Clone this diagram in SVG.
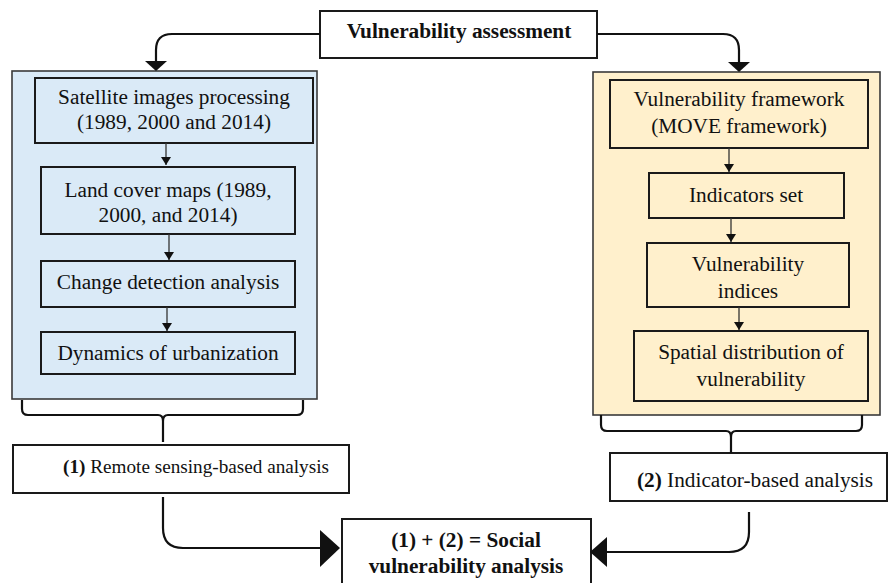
<svg xmlns="http://www.w3.org/2000/svg" width="888" height="583" viewBox="0 0 888 583">
<defs>
<style>
text{font-family:'Liberation Serif','Times New Roman',serif;font-size:21.3px;fill:#111;text-anchor:middle}
text.s{font-size:19.2px}
.b{font-weight:bold}
.box{stroke:#1a1a1a;stroke-width:2}
.blue{fill:#DAEAF7}
.yel{fill:#FFF0CC}
.wht{fill:#fff}
.cont{stroke:#3a3a3a;stroke-width:1.6}
.thin{stroke:#333;stroke-width:1.3;fill:none}
.thick{stroke:#111;stroke-width:2.2;fill:none}
</style>
<marker id="sa" markerWidth="10" markerHeight="10" refX="8" refY="5" orient="auto" markerUnits="userSpaceOnUse">
<path d="M0,0 L8,5 L0,10 Z" fill="#111"/>
</marker>
</defs>

<g id="containers">
<rect x="12" y="71" width="305" height="328" class="blue cont"/>
<rect x="593" y="72" width="287" height="343" class="yel cont"/>
</g>

<g id="n-top"><rect x="320" y="11" width="277" height="47" class="wht box"/><text x="459" y="38" class="b">Vulnerability assessment</text></g>

<g id="n-l1"><rect x="35" y="78" width="278" height="65" class="blue box"/><text x="174" y="104">Satellite images processing</text><text x="174" y="129">(1989, 2000 and 2014)</text></g>
<g id="n-l2"><rect x="41" y="167" width="254" height="67" class="blue box"/><text x="168" y="197">Land cover maps (1989,</text><text x="168" y="222">2000, and 2014)</text></g>
<g id="n-l3"><rect x="41" y="261" width="254" height="46" class="blue box"/><text x="168" y="289">Change detection analysis</text></g>
<g id="n-l4"><rect x="41" y="332" width="254" height="42" class="blue box"/><text x="168" y="360">Dynamics of urbanization</text></g>

<g id="n-r1"><rect x="610" y="80" width="258" height="68" class="yel box"/><text x="739" y="106">Vulnerability framework</text><text x="739" y="133">(MOVE framework)</text></g>
<g id="n-r2"><rect x="649" y="173" width="195" height="45" class="yel box"/><text x="746" y="202">Indicators set</text></g>
<g id="n-r3"><rect x="647" y="243" width="202" height="64" class="yel box"/><text x="748" y="271">Vulnerability</text><text x="748" y="298">indices</text></g>
<g id="n-r4"><rect x="634" y="331" width="234" height="70" class="yel box"/><text x="751" y="359">Spatial distribution of</text><text x="751" y="386">vulnerability</text></g>

<g id="n-rs"><rect x="13" y="445" width="336" height="48" class="wht box"/><text x="196" y="473" class="s"><tspan class="b">(1)</tspan> Remote sensing-based analysis</text></g>
<g id="n-ib"><rect x="610" y="453" width="277" height="48" class="wht box"/><text x="755" y="487"><tspan class="b">(2)</tspan> Indicator-based analysis</text></g>
<g id="n-final"><rect x="342" y="519" width="249" height="70" class="wht box"/><text x="466" y="547" class="b">(1) + (2) = Social</text><text x="466" y="573" class="b">vulnerability analysis</text></g>

<g id="connectors">
<path d="M166,143 V165" class="thin" marker-end="url(#sa)"/>
<path d="M169,234 V260" class="thin" marker-end="url(#sa)"/>
<path d="M167,307 V331" class="thin" marker-end="url(#sa)"/>
<path d="M729,148 V172" class="thin" marker-end="url(#sa)"/>
<path d="M731,218 V242" class="thin" marker-end="url(#sa)"/>
<path d="M739,307 V330" class="thin" marker-end="url(#sa)"/>

<path d="M320,34 H172 Q156,34 156,50 V62" class="thick"/>
<path d="M145,61 L167,61 L156,71 Z" fill="#111"/>
<path d="M597,34 H723 Q739,34 739,50 V62" class="thick"/>
<path d="M728,62 L750,62 L739,72 Z" fill="#111"/>

<path d="M22,400 V409 Q22,415 28,415 H158 Q163,415 163,421 V442 M303,400 V409 Q303,415 297,415 H168 Q163,415 163,421" class="thick"/>
<path d="M601,415 V425 Q601,431 607,431 H726 Q731,431 731,437 V453 M862,415 V425 Q862,431 856,431 H736 Q731,431 731,437" class="thick"/>

<path d="M163,497 V528 Q163,548 183,548 H322" class="thick" stroke-width="1.6"/>
<path d="M320,530 L340,548 L320,567 Z" fill="#111"/>
<path d="M749,512 V532 Q749,552 729,552 H605" class="thick" stroke-width="1.6"/>
<path d="M607,537 L590,552 L607,567 Z" fill="#111"/>
</g>
</svg>
